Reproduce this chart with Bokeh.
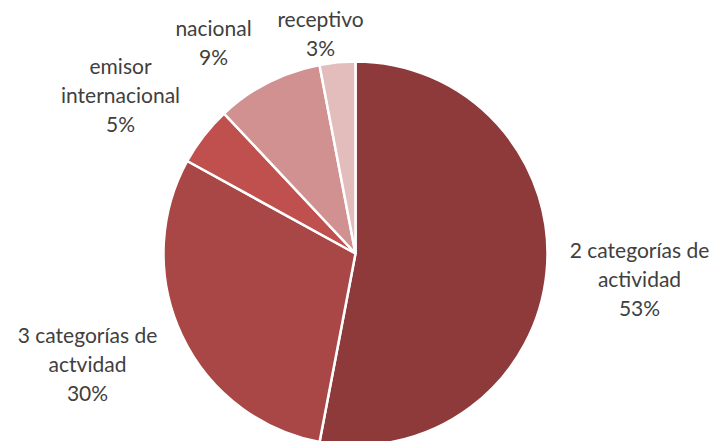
import math
from bokeh.plotting import figure
from bokeh.models import Range1d, ColumnDataSource
from bokeh.core.properties import value
from bokeh.embed import file_html
from bokeh.resources import INLINE

# Data
categories = ["2 categorías de\nactividad", "3 categorías de\nactvidad",
              "emisor\ninternacional", "nacional", "receptivo"]
values = [53, 30, 5, 9, 3]
colors = ["#8E3A3A", "#A94747", "#C0504D", "#D19191", "#E3BCBC"]

# Layout (pixel space, y up)
W, H = 716, 441
cx, cy, R = 355, 441 - 253, 192
# label centers in pixels (x, y from top) for each slice
label_pos = [(639, 278), (87, 363), (120, 94), (213, 41), (320, 32)]
line_gap = 29

p = figure(width=W, height=H, output_backend="svg", toolbar_location=None,
           x_range=Range1d(0, W), y_range=Range1d(0, H), min_border=0)
p.axis.visible = False
p.grid.visible = False
p.outline_line_color = None
p.background_fill_color = "white"

total = sum(values)
starts, ends = [], []
cum = 0.0
for v in values:
    starts.append(math.pi / 2 - 2 * math.pi * cum / total)
    cum += v
    ends.append(math.pi / 2 - 2 * math.pi * cum / total)

src = ColumnDataSource(dict(x=[cx] * len(values), y=[cy] * len(values),
                            start=starts, end=ends, color=colors))
p.wedge(x="x", y="y", radius=R, start_angle="start", end_angle="end",
        direction="clock", fill_color="color", line_color="white",
        line_width=2.5, source=src)

tx, ty, tt = [], [], []
for cat, v, (lx, ly) in zip(categories, values, label_pos):
    lines = cat.split("\n") + [f"{v}%"]
    n = len(lines)
    for i, ln in enumerate(lines):
        tx.append(lx)
        ty.append(H - (ly + (i - (n - 1) / 2) * line_gap))
        tt.append(ln)

p.text(x=tx, y=ty, text=tt, text_align="center", text_baseline="middle",
       text_font=value("Lato"), text_font_size="21px", text_color="#404040")

open("out.html", "w").write(file_html(p, INLINE))
